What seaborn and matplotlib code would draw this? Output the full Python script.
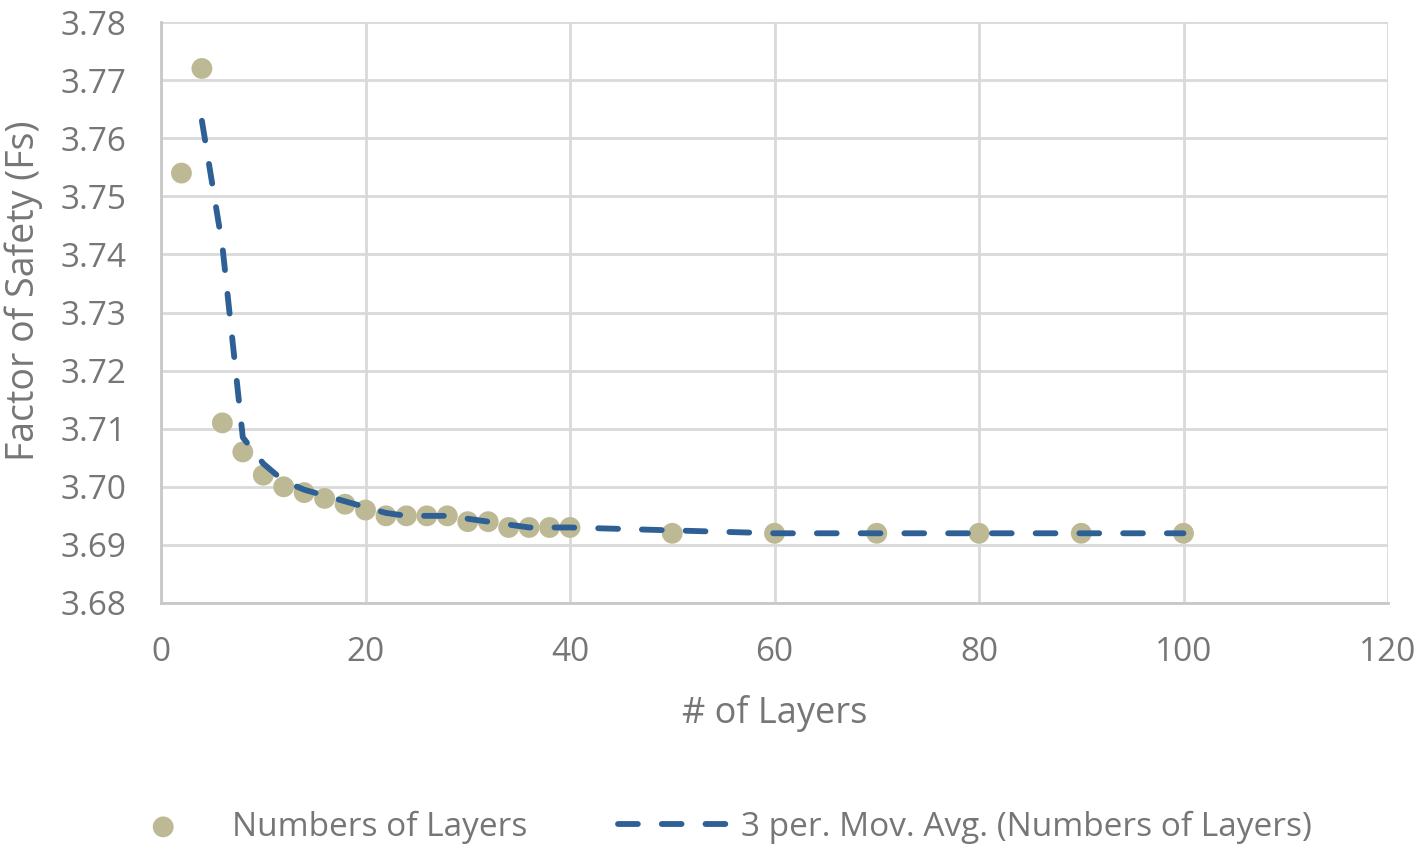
import numpy as np
import pandas as pd
import matplotlib
matplotlib.use('Agg')
import matplotlib.pyplot as plt
import seaborn as sns

# --------------
# Data
# --------------
layers = [2, 4, 6, 8, 10, 12, 14, 16, 18, 20, 22, 24, 26, 28, 30, 32, 34, 36, 38, 40,
          50, 60, 70, 80, 90, 100]
fs = [3.754, 3.772, 3.711, 3.706, 3.702, 3.700, 3.699, 3.698, 3.697, 3.696,
      3.695, 3.695, 3.695, 3.695, 3.694, 3.694, 3.693, 3.693, 3.693, 3.693,
      3.692, 3.692, 3.692, 3.692, 3.692, 3.692]

df = pd.DataFrame({'layers': layers, 'fs': fs})
# trendline as drawn in the picture (2-point moving average)
df['mov_avg'] = df['fs'].rolling(2).mean()

# --------------
# Plot
# --------------
sns.set_style('white')
plt.rcParams['font.family'] = ['Open Sans', 'DejaVu Sans']
grey = '#767676'

fig = plt.figure(figsize=(14.21, 8.5), dpi=100)
ax = fig.add_axes([161 / 1421, 1 - 603 / 850, (1388 - 161) / 1421, (603 - 22) / 850])

sns.scatterplot(x='layers', y='fs', data=df, ax=ax, color='#bdb995', s=225,
                edgecolor='none', zorder=3, legend=False)
sns.lineplot(x='layers', y='mov_avg', data=df.dropna(), ax=ax, color='#2e5f95',
             linewidth=4.2, zorder=4, legend=False)
for ln in ax.get_lines():
    ln.set_dashes((3.4, 4.1))
    ln.set_dash_capstyle('round')

ax.set_xlim(0, 120)
ax.set_ylim(3.68, 3.78)
ax.set_xticks(np.arange(0, 121, 20))
ax.set_yticks(np.arange(3.68, 3.7801, 0.01))
ax.set_yticklabels(['%.2f' % v for v in np.arange(3.68, 3.7801, 0.01)])
ax.grid(True, color='#d9d9d9', linewidth=2)
ax.set_axisbelow(True)
for s in ['top', 'right']:
    ax.spines[s].set_visible(False)
for s in ['left', 'bottom']:
    ax.spines[s].set_color('#c8c8c8')
    ax.spines[s].set_linewidth(2)
ax.tick_params(axis='both', labelsize=24, colors=grey, length=0)
ax.tick_params(axis='y', pad=25)
ax.tick_params(axis='x', pad=24)

ax.set_xlabel('# of Layers', fontsize=26, color=grey, va='center')
ax.set_ylabel('Factor of Safety (Fs)', fontsize=27, color=grey, va='center')
ax.xaxis.set_label_coords((774.5 - 161) / 1227, (603 - 714) / 581)
ax.yaxis.set_label_coords((24 - 161) / 1227, (603 - 291) / 581)

handles = ax.collections[:1] + ax.get_lines()[:1]
labels = ['Numbers of Layers', '3 per. Mov. Avg. (Numbers of Layers)']
fig.legend(handles, labels, loc='center', bbox_to_anchor=(0.5, 1 - 827 / 850), ncol=2,
           frameon=False, fontsize=24, labelcolor=grey, columnspacing=2.7,
           handlelength=3.25, handletextpad=0.45)

plt.savefig('out.png', dpi=100)
plt.close()
